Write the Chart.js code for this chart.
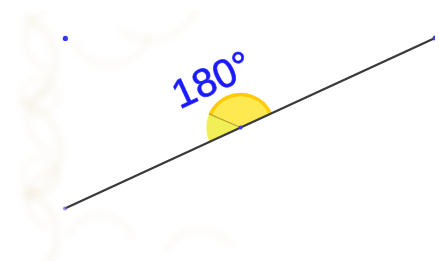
<!DOCTYPE html>
<html>
<head>
<meta charset="utf-8">
<script src="https://cdn.jsdelivr.net/npm/chart.js@4/dist/chart.umd.min.js"></script>
<style>
html,body{margin:0;padding:0;background:#fff;}
#c{display:block;}
</style>
</head>
<body>
<canvas id="c" width="439" height="261"></canvas>
<script>
// ---- data (geometry units) ----
const segX = [0, 37.7];          // line through A and B
const segY = [0, 17.6];
const pointNames = ['C', 'V'];
const pointX = [0.05, 17.9];
const pointY = [17.55, 8.36];
const angleValue = [180];        // degrees, measured angle at V
const innerSector = [0, 132];    // sub-angle (degrees from the ray VB)
const angleRadius = [3.5];
const labelX = [11.7];
const labelY = [10.25];
const labelText = ['180°'];

const xMin = -6.2, xMax = 37.7, yMin = -5.0, yMax = 21.1;

const watermark = {
  id: 'watermark',
  beforeDraw(chart) {
    const ctx = chart.ctx;
    ctx.save();
    ctx.fillStyle = '#ffffff';
    ctx.fillRect(0, 0, chart.width, chart.height);
    ctx.beginPath();
    ctx.rect(15, 9, 424, 252);
    ctx.clip();
    ctx.filter = 'blur(3px)';
    ctx.strokeStyle = 'rgba(232,215,185,0.13)';
    ctx.lineCap = 'round';
    const arcs = [
      [10, 60, 45, -1.2, 1.3, 9], [10, 150, 50, -1.1, 1.2, 9], [12, 235, 45, -1.3, 1.0, 9],
      [55, 40, 30, 2.0, 4.3, 7], [60, 120, 32, 1.9, 4.4, 7], [58, 200, 30, 2.0, 4.5, 7],
      [110, 25, 40, 0.3, 2.6, 6], [100, 250, 35, 3.6, 5.9, 6], [40, 95, 18, 0, 6.2, 5],
      [40, 175, 18, 0, 6.2, 5], [150, -10, 50, 0.4, 2.2, 6], [200, 270, 40, 3.7, 5.6, 6]
    ];
    arcs.forEach(a => {
      ctx.lineWidth = a[5];
      ctx.beginPath();
      ctx.arc(a[0], a[1], a[2], a[3], a[4]);
      ctx.stroke();
    });
    ctx.restore();
  }
};

const anglePlugin = {
  id: 'anglePlugin',
  beforeDatasetsDraw(chart) {
    const ctx = chart.ctx;
    const xs = chart.scales.x, ys = chart.scales.y;
    const cx = xs.getPixelForValue(pointX[1]);
    const cy = ys.getPixelForValue(pointY[1]);
    const r = xs.getPixelForValue(angleRadius[0]) - xs.getPixelForValue(0);
    const dx = xs.getPixelForValue(segX[1]) - xs.getPixelForValue(segX[0]);
    const dy = ys.getPixelForValue(segY[1]) - ys.getPixelForValue(segY[0]);
    const base = Math.atan2(dy, dx); // screen angle of ray VB
    const full = angleValue[0] * Math.PI / 180;
    ctx.save();
    ctx.beginPath();
    ctx.moveTo(cx, cy);
    ctx.arc(cx, cy, r, base, base - full, true);
    ctx.closePath();
    ctx.fillStyle = 'rgba(236,234,30,0.75)';
    ctx.fill();
    const a0 = base - innerSector[0] * Math.PI / 180;
    const a1 = base - innerSector[1] * Math.PI / 180;
    ctx.beginPath();
    ctx.moveTo(cx, cy);
    ctx.arc(cx, cy, r, a0, a1, true);
    ctx.closePath();
    ctx.fillStyle = 'rgba(255,232,80,0.9)';
    ctx.fill();
    ctx.beginPath();
    ctx.arc(cx, cy, r - 1.5, a0, a1, true);
    ctx.strokeStyle = 'rgba(255,200,0,0.9)';
    ctx.lineWidth = 3.5;
    ctx.stroke();
    ctx.beginPath();
    ctx.moveTo(cx, cy);
    ctx.lineTo(cx + r * Math.cos(a1), cy + r * Math.sin(a1));
    ctx.strokeStyle = 'rgba(170,150,30,0.8)';
    ctx.lineWidth = 1.3;
    ctx.stroke();
    ctx.restore();
  },
  afterDatasetsDraw(chart) {
    const ctx = chart.ctx;
    const xs = chart.scales.x, ys = chart.scales.y;
    const dx = xs.getPixelForValue(segX[1]) - xs.getPixelForValue(segX[0]);
    const dy = ys.getPixelForValue(segY[1]) - ys.getPixelForValue(segY[0]);
    const rot = Math.atan2(dy, dx);
    ctx.save();
    ctx.translate(xs.getPixelForValue(labelX[0]), ys.getPixelForValue(labelY[0]));
    ctx.rotate(rot);
    ctx.font = '40px "Liberation Sans", Arial, sans-serif';
    ctx.fillStyle = '#1a1aff';
    ctx.strokeStyle = 'rgba(26,26,255,0.7)';
    ctx.lineWidth = 1;
    ctx.textBaseline = 'alphabetic';
    ctx.textAlign = 'left';
    ctx.fillText(labelText[0], 0, 0);
    ctx.strokeText(labelText[0], 0, 0);
    ctx.restore();
  }
};

new Chart(document.getElementById('c'), {
  type: 'scatter',
  data: {
    datasets: [
      {
        label: 'points',
        data: pointX.map((x, i) => ({ x, y: pointY[i] })),
        showLine: false,
        pointRadius: [2.6, 2],
        pointBackgroundColor: ['#3838f0', '#3a3af0'],
        pointBorderWidth: 0,
        order: 0
      },
      {
        label: 'line AB',
        data: segX.map((x, i) => ({ x, y: segY[i] })),
        showLine: true,
        borderColor: '#3a3a3a',
        borderWidth: 2.2,
        pointRadius: [2, 2.5],
        pointBackgroundColor: ['rgba(120,110,230,0.7)', '#4040e8'],
        pointBorderWidth: 0,
        order: 1
      }
    ]
  },
  options: {
    responsive: false,
    animation: false,
    events: [],
    layout: { padding: 0 },
    plugins: { legend: { display: false }, tooltip: { enabled: false }, title: { display: false } },
    scales: {
      x: { type: 'linear', min: xMin, max: xMax, display: false },
      y: { type: 'linear', min: yMin, max: yMax, display: false }
    }
  },
  plugins: [watermark, anglePlugin]
});
</script>
</body>
</html>
